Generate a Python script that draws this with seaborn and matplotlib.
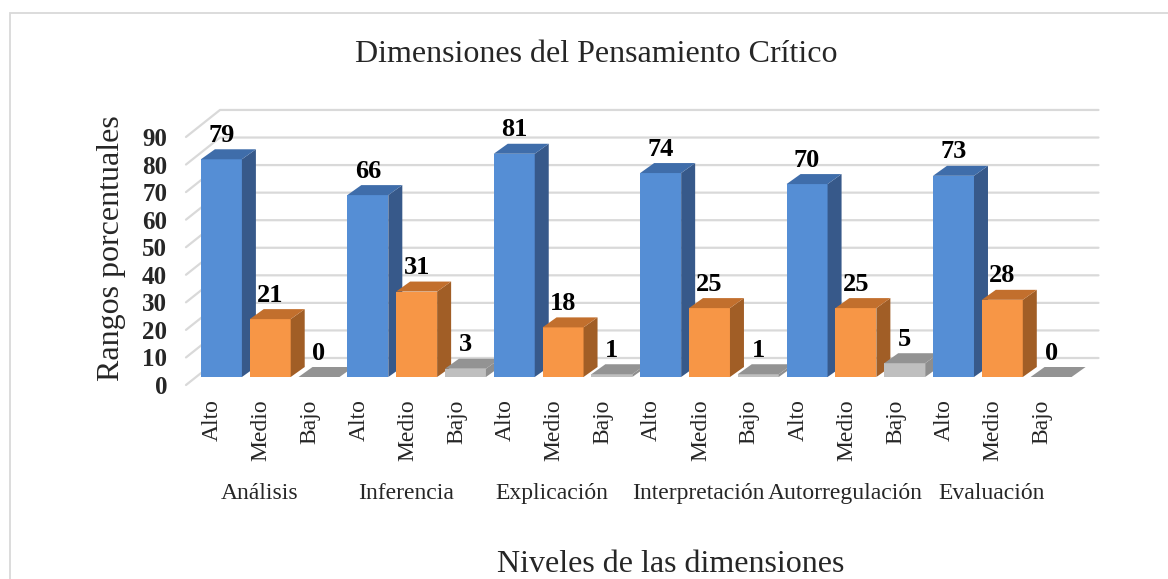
import matplotlib
matplotlib.use("Agg")
import matplotlib.pyplot as plt
from matplotlib.patches import Polygon, Rectangle
from matplotlib.transforms import ScaledTranslation
import seaborn as sns
import pandas as pd

# datos
dimensiones = ['Análisis', 'Inferencia', 'Explicación', 'Interpretación', 'Autorregulación', 'Evaluación']
niveles = ['Alto', 'Medio', 'Bajo']
alto = [79, 66, 81, 74, 70, 73]
medio = [21, 31, 18, 25, 25, 28]
bajo = [0, 3, 1, 1, 5, 0]

rows = []
for i, dim in enumerate(dimensiones):
    for nivel, serie in zip(niveles, [alto, medio, bajo]):
        rows.append({'dimension': dim, 'nivel': nivel, 'barra': f'{dim} {nivel}', 'valor': serie[i]})
df = pd.DataFrame(rows)

sns.set_theme(style='white')
plt.rcParams['font.family'] = ['Liberation Serif', 'DejaVu Serif']

W, H = 1168, 579
fig = plt.figure(figsize=(W / 100, H / 100), dpi=100)
ax_l, ax_b, ax_w, ax_h = 197, 377, 878.5, 275.6  # pixeles
ax = fig.add_axes([ax_l / W, (H - ax_b) / H, ax_w / W, ax_h / H])

front = {'Alto': '#558ED5', 'Medio': '#F79646', 'Bajo': '#BFBFBF'}
side = {'Alto': '#37598A', 'Medio': '#A15E26', 'Bajo': '#8E8E8E'}
top = {'Alto': '#3F6DAA', 'Medio': '#C26F2D', 'Bajo': '#939393'}

sns.barplot(data=df, x='barra', y='valor', hue='nivel', palette=front, order=df['barra'],
            dodge=False, width=0.84, saturation=1, legend=False, linewidth=0,
            errorbar=None, ax=ax)

ax.set_xlim(-0.5, 17.5)
ax.set_ylim(0, 100)
sns.despine(ax=ax, left=True, bottom=True)
ax.set_xlabel('')
ax.set_ylabel('')
ax.patch.set_alpha(0)

# pixeles por unidad de datos
ppx = ax_w / 18
ppy = ax_h / 100
FRONT = (-11 / ppx, -8 / ppy)
WALL = (23 / ppx, 19 / ppy)
DEPTH = (14 / ppx, 10 / ppy)

# lineas de la pared del fondo
for v in range(0, 100, 10):
    ax.plot([-0.5 + FRONT[0], -0.5 + WALL[0], 17.5 + WALL[0]],
            [v + FRONT[1], v + WALL[1], v + WALL[1]],
            color='#D9D9D9', lw=1.6, zorder=0, clip_on=False)

# caras laterales y superiores para el efecto 3D
bars = sorted(ax.patches, key=lambda p: p.get_x())
for i, p in enumerate(bars):
    nivel = niveles[i % 3]
    x, w, h = p.get_x(), p.get_width(), p.get_height()
    p.set_zorder(2 + i)
    p.set_clip_on(False)
    dx, dy = DEPTH
    ax.add_patch(Polygon([(x + w, 0), (x + w, h), (x + w + dx, h + dy), (x + w + dx, dy)],
                         closed=True, facecolor=side[nivel], edgecolor='none',
                         zorder=2 + i, clip_on=False))
    ax.add_patch(Polygon([(x, h), (x + w, h), (x + w + dx, h + dy), (x + dx, h + dy)],
                         closed=True, facecolor=top[nivel], edgecolor='none',
                         zorder=2 + i, clip_on=False))
    ax.text(x + w / 2, h, f'{h:.0f}', ha='center', va='baseline', fontsize=19,
            fontweight='bold', color='black', zorder=50,
            transform=ax.transData + ScaledTranslation(0, 0.175, fig.dpi_scale_trans))

# ejes
ax.set_yticks(range(0, 100, 10))
ax.set_yticklabels([str(v) for v in range(0, 100, 10)], fontsize=18, fontweight='bold')
ax.tick_params(axis='y', length=0, pad=21.5)
for lbl in ax.get_yticklabels():
    lbl.set_transform(lbl.get_transform() + ScaledTranslation(0, -0.08, fig.dpi_scale_trans))

ax.set_xticks(range(len(df)))
ax.set_xticklabels(df['nivel'], rotation=90, fontsize=17)
ax.tick_params(axis='x', length=0, pad=16)
for lbl in ax.get_xticklabels():
    lbl.set_transform(lbl.get_transform() + ScaledTranslation(-0.09, 0, fig.dpi_scale_trans))

for g, dim in enumerate(dimensiones):
    ax.text(g * 3 + 1 + FRONT[0], (ax_b - 499) / ax_h, dim, ha='center', va='baseline',
            fontsize=17, transform=ax.get_xaxis_transform())

fig.text(596 / W, 1 - 55 / H, 'Dimensiones del Pensamiento Crítico', ha='center', va='center', fontsize=23)
fig.text(112 / W, 1 - 248 / H, 'Rangos porcentuales', ha='center', va='center', rotation=90, fontsize=23)
fig.text(671 / W, 1 - 565 / H, 'Niveles de las dimensiones', ha='center', va='center', fontsize=23)

# borde del grafico
fig.patches.append(Rectangle((10 / W, -0.1), 1.2, 1 - 13 / H + 0.1, transform=fig.transFigure,
                             fill=False, edgecolor='#D9D9D9', lw=1.3))

fig.savefig('out.png', dpi=100)
